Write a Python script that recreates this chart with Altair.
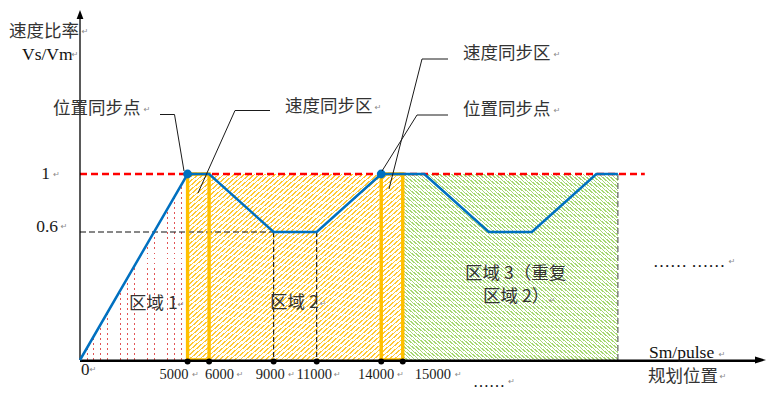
import altair as alt
import pandas as pd

# ---------------- data ----------------
PROFILE_X = [0, 5000, 6000, 9000, 11000, 14000, 16000, 19000, 21000, 24000, 25000]
PROFILE_Y = [0, 1, 1, 0.6, 0.6, 1, 1, 0.6, 0.6, 1, 1]
SYNC_POINT_X = [5000, 14000]
SYNC_POINT_Y = [1, 1]
SYNC_ZONE_START = [5000, 14000]
SYNC_ZONE_END = [6000, 15000]
REGION_1 = [0, 5000]
REGION_2 = [5000, 15000]
REGION_3 = [15000, 25000]
X_TICK_VALUES = [5000, 6000, 9000, 11000, 14000, 15000]
X_TICK_LABELS = ["5000", "6000", "9000", "11000", "14000", "15000"]
Y_TICK_VALUES = [1, 0.6]
Y_TICK_LABELS = ["1", "0.6"]
LOW_RATIO = 0.6
LOW_START = 9000
LOW_END = 11000
LIMIT_RATIO = 1
LIMIT_END = 26250

# ---------------- layout / style ----------------
W, H = 778, 395
X_ORIGIN_PX = 80
PX_PER_UNIT = 0.021516
xs = alt.Scale(domain=[-X_ORIGIN_PX / PX_PER_UNIT, (W - X_ORIGIN_PX) / PX_PER_UNIT],
               range=[0, W], nice=False, zero=False)
ys = alt.Scale(domain=[0, 0.6, 1], range=[360, 232, 174], nice=False, zero=False)

BLUE = "#0070C0"
ORANGE = "#FFC000"
GREEN = "#A6D872"
CJK = "Noto Sans CJK SC"
SERIF = "Liberation Serif"
TXT = "#333333"


def stripes(n, color, duty, x1, y1, x2, y2, bg="#ffffff"):
    stops = []
    for i in range(n):
        a = round(i / n, 6)
        b = round(min(1.0, (i + duty) / n), 6)
        c = round(min(1.0, (i + 1) / n), 6)
        stops += [(a, color), (b, color), (b, bg), (c, bg)]
    return alt.LinearGradient(
        gradient="linear",
        stops=[alt.GradientStop(offset=o, color=col) for o, col in stops],
        x1=x1, y1=y1, x2=x2, y2=y2)


X = lambda f: alt.X(f, type="quantitative", scale=xs, axis=None)
Y = lambda f: alt.Y(f, type="quantitative", scale=ys, axis=None)
PX = lambda f: alt.X(f, type="quantitative", scale=None, axis=None)
PY = lambda f: alt.Y(f, type="quantitative", scale=None, axis=None)

layers = []

# region 1: dotted (red) area under the ramp: red columns, cut into dots by white rows
r1 = pd.DataFrame({"x": REGION_1, "y": [PROFILE_Y[0], PROFILE_Y[1]], "b": [0, 0]})
layers.append(alt.Chart(r1).mark_area(
    fill=stripes(16, "#e25555", 0.12, 0, 0, 1, 0)).encode(
    x=X("x"), y=Y("y"), y2=alt.Y2("b")))
layers.append(alt.Chart(r1).mark_area(
    fill=stripes(37, "rgba(255,255,255,1)", 0.62, 0, 0, 0, 1, bg="rgba(255,255,255,0)")).encode(
    x=X("x"), y=Y("y"), y2=alt.Y2("b")))

# region 2: orange hatch
r2 = pd.DataFrame({"x": [REGION_2[0]], "x2": [REGION_2[1]], "y": [1], "y2": [0]})
layers.append(alt.Chart(r2).mark_rect(
    fill=stripes(84, "#FFC832", 0.34, 0, 0, 1, 1)).encode(
    x=X("x"), x2="x2", y=Y("y"), y2="y2"))

# region 3: green hatch
r3 = pd.DataFrame({"x": [REGION_3[0]], "x2": [REGION_3[1]], "y": [1], "y2": [0]})
layers.append(alt.Chart(r3).mark_rect(
    fill=stripes(108, GREEN, 0.38, 0, 1, 1, 0)).encode(
    x=X("x"), x2="x2", y=Y("y"), y2="y2"))

# black dashed guides
hd = pd.DataFrame({"x": [0], "x2": [LOW_START], "y": [LOW_RATIO]})
layers.append(alt.Chart(hd).mark_rule(color="#111", strokeWidth=1.1, strokeDash=[6, 3]).encode(
    x=X("x"), x2="x2", y=Y("y")))
vd = pd.DataFrame({"x": [LOW_START, LOW_END], "y": [LOW_RATIO, LOW_RATIO], "y2": [0, 0]})
layers.append(alt.Chart(vd).mark_rule(color="#111", strokeWidth=1.1, strokeDash=[5, 2.5]).encode(
    x=X("x"), y=Y("y"), y2="y2"))
ed = pd.DataFrame({"x": [REGION_3[1]], "y": [1], "y2": [0]})
layers.append(alt.Chart(ed).mark_rule(color="#555", strokeWidth=1.1, strokeDash=[6, 3]).encode(
    x=X("x"), y=Y("y"), y2="y2"))

# red dashed limit line
rl = pd.DataFrame({"x": [0], "x2": [LIMIT_END], "y": [LIMIT_RATIO]})
layers.append(alt.Chart(rl).mark_rule(color="#FF0000", strokeWidth=2.3, strokeDash=[7, 4]).encode(
    x=X("x"), x2="x2", y=Y("y")))

# speed-sync zones (orange outline bars)
sz = pd.DataFrame({"x": SYNC_ZONE_START, "x2": SYNC_ZONE_END, "y": [1, 1], "y2": [0, 0]})
layers.append(alt.Chart(sz).mark_rect(fillOpacity=0, stroke=ORANGE, strokeWidth=3.4).encode(
    x=X("x"), x2="x2", y=Y("y"), y2="y2"))

# axes
ax = pd.DataFrame({"x": [0], "y": [0]})
layers.append(alt.Chart(ax).mark_rule(color="black", strokeWidth=1.3).encode(
    x=X("x"), y=alt.value(18), y2=alt.value(360)))
layers.append(alt.Chart(ax).mark_rule(color="black", strokeWidth=2.4, yOffset=0.8).encode(
    x=X("x"), x2=alt.value(757), y=Y("y")))
layers.append(alt.Chart(ax).mark_point(shape="M0,-1L0.75,1L-0.75,1Z", filled=True, color="black",
                                       size=81, opacity=1, strokeWidth=0).encode(
    x=X("x"), y=alt.value(14.5)))
layers.append(alt.Chart(ax).mark_point(shape="M1,0L-1,-0.65L-1,0.65Z", filled=True, color="black",
                                       size=121, opacity=1, strokeWidth=0).encode(
    x=alt.value(760.5), y=Y("y")))

# blue speed-ratio profile
pf = pd.DataFrame({"x": PROFILE_X, "y": PROFILE_Y})
layers.append(alt.Chart(pf).mark_line(color=BLUE, strokeWidth=2.5).encode(x=X("x"), y=Y("y")))

# tick dots on the x axis
td = pd.DataFrame({"x": X_TICK_VALUES, "y": [0] * len(X_TICK_VALUES)})
layers.append(alt.Chart(td).mark_circle(color="black", size=36, opacity=1, yOffset=1.6).encode(
    x=X("x"), y=Y("y")))

# position-sync points
sp = pd.DataFrame({"x": SYNC_POINT_X, "y": SYNC_POINT_Y})
layers.append(alt.Chart(sp).mark_circle(color=BLUE, size=78, opacity=1).encode(x=X("x"), y=Y("y")))

# leader lines (pixel layout)
LEADERS = [(160, 114.5, 174.5, 114.5), (174.5, 114.5, 184, 171),
           (270, 110.5, 235, 110.5), (235, 110.5, 198, 193),
           (448, 59, 422, 59), (422, 59, 389, 189),
           (448, 115, 417, 115), (417, 115, 382, 171)]
ld = pd.DataFrame(LEADERS, columns=["a", "b", "c", "d"])
layers.append(alt.Chart(ld).mark_rule(color="#1a1a1a", strokeWidth=1).encode(
    x=PX("a"), y=PY("b"), x2="c", y2="d"))

# x tick labels
LABEL_DX = [-28, -4, -18, -20.3, -23.3, 12]
RET_DX = [8, 31, 18, 20.7, 19.3, 55.7]
for v, lab, dx, rdx in zip(X_TICK_VALUES, X_TICK_LABELS, LABEL_DX, RET_DX):
    d = pd.DataFrame({"x": [v], "t": [lab]})
    layers.append(alt.Chart(d).mark_text(font=SERIF, fontSize=14.5, color="#1a1a1a", align="left",
                                         baseline="middle", dx=dx).encode(
        x=X("x"), y=alt.value(375), text="t:N"))
    layers.append(alt.Chart(d).mark_text(font="DejaVu Sans", fontSize=8, color="#8a8a8a",
                                         align="center", baseline="middle", dx=rdx, text="↵").encode(
        x=X("x"), y=alt.value(375)))
zero = pd.DataFrame({"x": [0], "t": ["0"]})
layers.append(alt.Chart(zero).mark_text(font=SERIF, fontSize=17, color="#1a1a1a", align="left",
                                        baseline="middle", dx=1).encode(
    x=X("x"), y=alt.value(370), text="t:N"))

# y tick labels
Y_LABEL_RIGHT = [50, 58]
Y_LABEL_DY = [0, -5]
for v, lab, xr, dy in zip(Y_TICK_VALUES, Y_TICK_LABELS, Y_LABEL_RIGHT, Y_LABEL_DY):
    d = pd.DataFrame({"y": [v], "t": [lab]})
    layers.append(alt.Chart(d).mark_text(font=SERIF, fontSize=17.5, color="#1a1a1a", align="right",
                                         baseline="middle", dy=dy).encode(
        x=alt.value(xr), y=Y("y"), text="t:N"))

# annotation texts (pixel layout)
CJK_TEXT = [("速度比率", 9, 32), ("位置同步点", 53, 109), ("速度同步区", 285, 107),
            ("速度同步区", 463, 54), ("位置同步点", 463, 110), ("区域 1", 129, 304),
            ("区域 2", 270, 303), ("区域 3（重复", 465, 274), ("区域 2）", 483, 297),
            ("规划位置", 648, 377)]
ct = pd.DataFrame(CJK_TEXT, columns=["t", "px", "py"])
layers.append(alt.Chart(ct).mark_text(font=CJK, fontSize=17.5, color=TXT, align="left",
                                      baseline="middle").encode(
    x=PX("px"), y=PY("py"), text="t:N"))

SERIF_TEXT = [("Vs/Vm", 22, 55), ("Sm/pulse", 649, 353)]
st = pd.DataFrame(SERIF_TEXT, columns=["t", "px", "py"])
layers.append(alt.Chart(st).mark_text(font=SERIF, fontSize=17.5, color="#111", align="left",
                                      baseline="middle").encode(
    x=PX("px"), y=PY("py"), text="t:N"))

DOTS_TEXT = [("…… ……", 653, 267, 17), ("……", 473, 387, 16)]
for t, px, py, fs in DOTS_TEXT:
    d = pd.DataFrame({"t": [t], "px": [px], "py": [py]})
    layers.append(alt.Chart(d).mark_text(font=SERIF, fontSize=fs, color="#111", align="left",
                                         baseline="alphabetic").encode(
        x=PX("px"), y=PY("py"), text="t:N"))

RETURNS = [(85, 32), (75, 55), (147, 110), (56.5, 175), (64, 227), (181, 305), (378, 108),
           (557, 55), (557, 111), (323, 304), (552, 301), (732, 262), (93, 370),
           (511.7, 382), (722, 355), (723, 377)]
rt = pd.DataFrame(RETURNS, columns=["px", "py"])
layers.append(alt.Chart(rt).mark_text(font="DejaVu Sans", fontSize=8, color="#8a8a8a",
                                      align="center", baseline="middle", text="↵").encode(
    x=PX("px"), y=PY("py")))

chart = alt.layer(*layers).properties(
    width=W, height=H, autosize=alt.AutoSizeParams(type="none"), padding=0,
    background="white").configure_view(stroke=None)

chart.save("out.html", embed_options={"renderer": "svg", "actions": False})
